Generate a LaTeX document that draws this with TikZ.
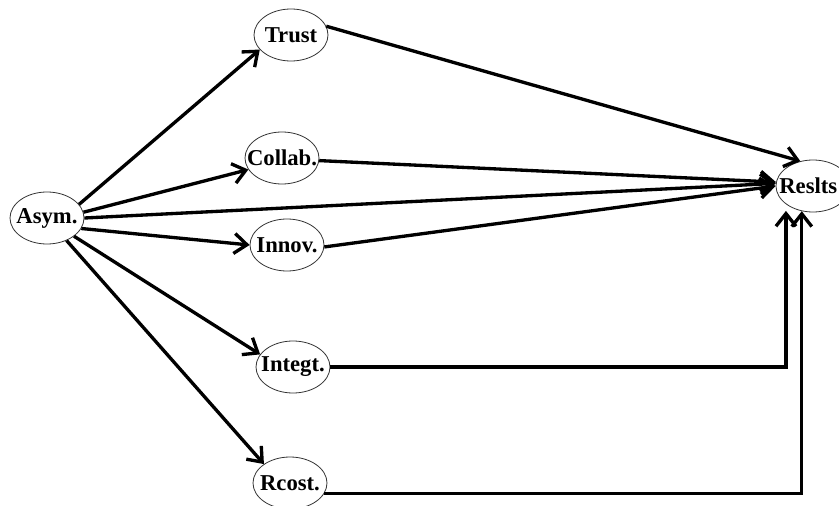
\documentclass[tikz,border=0pt]{standalone}
\usepackage{fontspec}
\setmainfont{Liberation Serif}
\usetikzlibrary{arrows.meta,shapes.geometric}
\newcommand{\zw}[1]{\makebox[0pt]{#1}}
\begin{document}
\begin{tikzpicture}[x=0.75pt,y=-0.75pt,
  nd/.style={ellipse,draw=black!80,line width=0.6pt,minimum width=55.5pt,minimum height=39pt,inner sep=0pt,font=\fontsize{17}{19}\selectfont\bfseries},
  arr/.style={line width=2.5pt,-{Straight Barb[length=9.5pt,width=15pt]}}]
\useasboundingbox (0,0) rectangle (839,506);
\clip (0,0) rectangle (839,506);
\node[nd] (asym)   at (47,218)  {\zw{Asym.}};
\node[nd] (trust)  at (291,35)  {\zw{Trust}};
\node[nd] (collab) at (282,158) {\zw{Collab.}};
\node[nd] (innov)  at (287,245) {\zw{Innov.}};
\node[nd] (integt) at (293,367) {\zw{Integt.}};
\node[nd] (rcost)  at (290,483) {\zw{Rcost.}};
\node[nd] (res)    at (813,186) {\zw{\kern-7pt Reslts}};
% from Asym.
\draw[arr] (asym.23)  -- (trust.205);
\draw[arr] (asym.9)   -- (collab.199);
\draw[arr] (asym.0)   -- (res.176);
\draw[arr] (asym.-17) -- (innov.180);
\draw[arr] (asym.-34) -- (integt.159);
\draw[arr] (asym.-49) -- (rcost.144);
% to Reslts
\draw[arr] (trust.14)   -- (res.117);
\draw[arr] (collab.-4)  -- (res.174);
\draw[arr] (innov.-3)   -- (res.180);
\draw[arr] (integt.east) -| ([yshift=-5pt]res.-146);
\draw[arr] (rcost.-17)  -| (res.-114);
\end{tikzpicture}
\end{document}
